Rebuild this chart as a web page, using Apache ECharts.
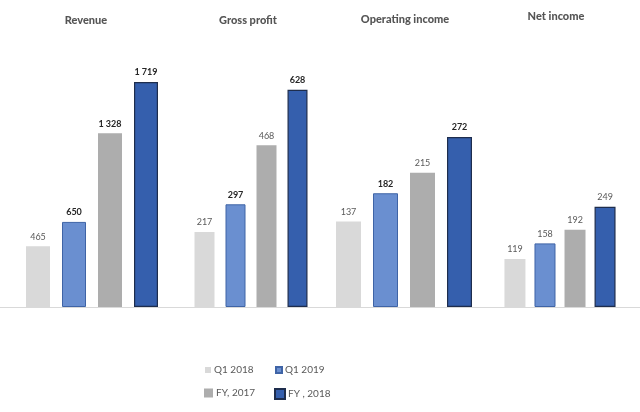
<!DOCTYPE html>
<html>
<head>
<meta charset="utf-8">
<script src="https://cdn.jsdelivr.net/npm/echarts@6/dist/echarts.min.js"></script>
<style>
  html, body { margin: 0; padding: 0; background: #fff; }
  #chart { width: 640px; height: 412px; }
</style>
</head>
<body>
<div id="chart"></div>
<script>
const groups = ['Revenue', 'Gross profit', 'Operating income', 'Net income'];
const seriesNames = ['Q1 2018', 'Q1 2019', 'FY, 2017', 'FY , 2018'];
const q1_2018 = [465, 217, 137, 119];
const q1_2019 = [650, 297, 182, 158];
const fy_2017 = [1328, 468, 215, 192];
const fy_2018 = [1719, 628, 272, 249];
const values = [q1_2018, q1_2019, fy_2017, fy_2018];

// layout / style per group
const axisMax = [1910, 723, 400, 621];
const groupCenter = [92, 251, 404, 560];
const barWidths = [24, 20, 25, 21];
const barGaps = ['50%', '55%', '48%', '43%'];
const titleCenter = [86, 248, 405, 556];
const titleTop = [15, 15, 14, 11];
// which labels are drawn bold: [group][series]
const boldLabel = [
  [false, true, true, true],
  [false, true, false, true],
  [false, true, false, true],
  [false, false, false, false]
];

const seriesStyle = [
  { color: '#d9d9d9' },
  { color: '#6a8fd0', borderColor: '#3f64a6', borderWidth: 1 },
  { color: '#adadad' },
  { color: '#355fad', borderColor: '#1e2d4d', borderWidth: 1.2 }
];

const fmt = v => String(v).replace(/\B(?=(\d{3})+(?!\d))/g, ' ');
const FONT = 'Lato, "Liberation Sans", sans-serif';
const GRID_TOP = 57;
const GRID_BOTTOM = 105;

const chart = echarts.init(document.getElementById('chart'));

const grid = [];
const xAxis = [];
const yAxis = [];
const series = [];
const title = [];

groups.forEach((g, i) => {
  grid.push({ left: groupCenter[i] - 70, width: 140, top: GRID_TOP, bottom: GRID_BOTTOM });
  xAxis.push({
    type: 'category', gridIndex: i, data: [g],
    axisLine: { show: false }, axisTick: { show: false }, axisLabel: { show: false }
  });
  yAxis.push({
    type: 'value', gridIndex: i, min: 0, max: axisMax[i],
    show: false, splitLine: { show: false }
  });
  title.push({
    text: g, left: titleCenter[i], top: titleTop[i], textAlign: 'center', padding: 0,
    textStyle: { fontFamily: FONT, fontSize: 11, fontWeight: 900, color: '#555555' }
  });
  seriesNames.forEach((name, k) => {
    series.push({
      name,
      type: 'bar',
      xAxisIndex: i,
      yAxisIndex: i,
      barWidth: barWidths[i],
      barGap: barGaps[i],
      itemStyle: seriesStyle[k],
      label: {
        show: true,
        position: 'top',
        distance: 5,
        fontFamily: FONT,
        fontSize: 9,
        fontWeight: boldLabel[i][k] ? 'bold' : 'normal',
        color: boldLabel[i][k] ? '#262626' : '#595959',
        formatter: p => fmt(p.value)
      },
      data: [values[k][i]]
    });
  });
});

// full-width baseline
grid.push({ left: 0, right: 0, top: GRID_TOP, bottom: GRID_BOTTOM });
xAxis.push({
  type: 'category', gridIndex: 4, data: [''],
  axisLine: { show: true, lineStyle: { color: '#d9d9d9', width: 1 } },
  axisTick: { show: false }, axisLabel: { show: false }
});
yAxis.push({ type: 'value', gridIndex: 4, show: false, min: 0, max: 1 });

const legendPos = [
  { left: 205, top: 365, size: 6 },
  { left: 275, top: 365, size: 6 },
  { left: 204, top: 388, size: 9 },
  { left: 274, top: 388, size: 10 }
];
const legend = seriesNames.map((name, k) => ({
  data: [name],
  left: legendPos[k].left,
  top: legendPos[k].top,
  icon: 'rect',
  itemWidth: legendPos[k].size,
  itemHeight: legendPos[k].size,
  itemGap: 0,
  padding: 0,
  textStyle: { fontFamily: FONT, fontSize: 10, color: '#595959', padding: [0, 0, 0, -2] }
}));

chart.setOption({
  backgroundColor: '#fff',
  animation: false,
  title,
  legend,
  grid,
  xAxis,
  yAxis,
  series
});
</script>
</body>
</html>
